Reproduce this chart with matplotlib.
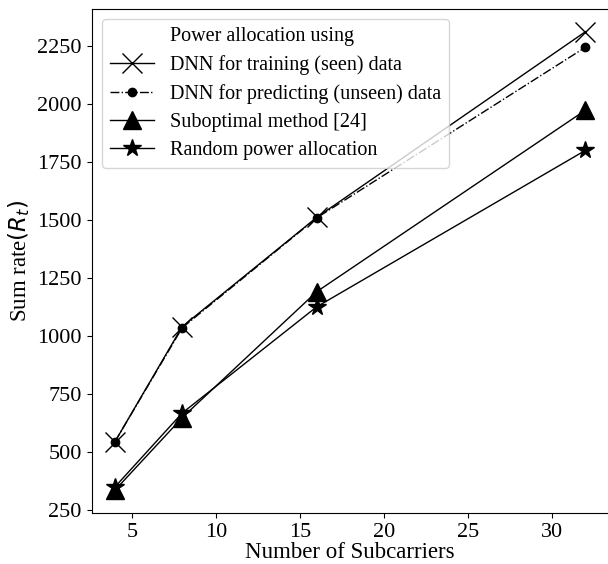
import matplotlib.pyplot as plt

plt.rcParams['font.family'] = ['Liberation Serif', 'DejaVu Serif']

subcarriers = [4, 8, 16, 32]
dnn_train = [545, 1040, 1510, 2310]
dnn_predict = [545, 1035, 1508, 2243]
suboptimal = [336, 648, 1190, 1972]
random_alloc = [350, 668, 1125, 1799]

fig = plt.figure(figsize=(6.08, 5.64), dpi=100)
ax = fig.add_axes([0.1505, 0.0904, 0.851, 0.894])

ax.plot([], [], ' ', label='Power allocation using')
ax.plot(subcarriers, dnn_train, 'k-', marker='x', markersize=14, linewidth=1,
        markeredgewidth=1, label='DNN for training (seen) data')
ax.plot(subcarriers, dnn_predict, 'k-.', marker='o', markersize=6, linewidth=1,
        label='DNN for predicting (unseen) data')
ax.plot(subcarriers, suboptimal, 'k-', marker='^', markersize=13, linewidth=1,
        label='Suboptimal method [24]')
ax.plot(subcarriers, random_alloc, 'k-', marker='*', markersize=13, linewidth=1,
        label='Random power allocation')

ax.set_yticks([250, 500, 750, 1000, 1250, 1500, 1750, 2000, 2250])
ax.set_xticks([5, 10, 15, 20, 25, 30])
ax.tick_params(labelsize=16)
ax.set_xlabel('Number of Subcarriers', fontsize=16.5, labelpad=0)
ax.set_ylabel('Sum rate$(R_t)$', fontsize=16.5, labelpad=4)

ax.legend(loc='upper left', fontsize=14.5, handlelength=2.2, borderaxespad=0.5,
          labelspacing=0.45)

fig.savefig('out.png', dpi=100)
